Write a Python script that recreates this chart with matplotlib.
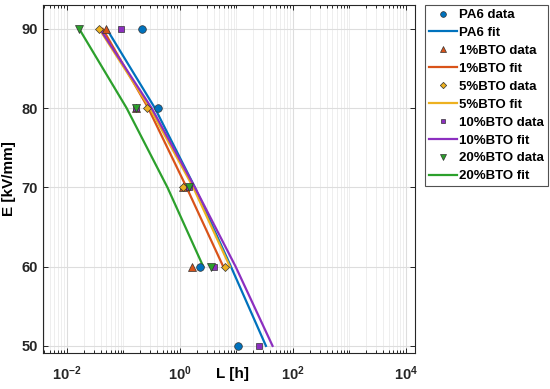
import numpy as np
import matplotlib
matplotlib.use("Agg")
import matplotlib.pyplot as plt
from matplotlib.ticker import LogLocator, NullFormatter, FixedLocator

plt.rcParams['font.family'] = ['Liberation Sans', 'DejaVu Sans']
plt.rcParams['font.weight'] = 'bold'
plt.rcParams['mathtext.fontset'] = 'custom'
plt.rcParams['mathtext.rm'] = 'Liberation Sans:bold'
plt.rcParams['mathtext.bf'] = 'Liberation Sans:bold'
plt.rcParams['mathtext.default'] = 'bf'

# Measured data (E in kV/mm, L in hours)
pa6_E = [90, 80, 60, 50]
pa6_L = [0.215, 0.41, 2.29, 10.5]
bto1_E = [90, 80, 70, 60]
bto1_L = [0.050, 0.165, 1.15, 1.65]
bto5_E = [90, 80, 70, 60]
bto5_L = [0.037, 0.26, 1.12, 6.3]
bto10_E = [90, 80, 70, 60, 50]
bto10_L = [0.091, 0.165, 1.46, 4.0, 25.1]
bto20_E = [90, 80, 70, 60]
bto20_L = [0.0166, 0.165, 1.46, 3.5]

# Fitted curves, read at each field level
pa6_fit_E = [90, 80, 70, 60, 50]
pa6_fit_L = [0.0505, 0.361, 1.84, 8.0, 33.3]
bto1_fit_E = [90, 80, 70, 60]
bto1_fit_L = [0.0429, 0.275, 1.31, 5.85]
bto5_fit_E = [90, 80, 70, 60]
bto5_fit_L = [0.0373, 0.294, 1.72, 7.67]
bto10_fit_E = [90, 80, 70, 60, 50]
bto10_fit_L = [0.0384, 0.316, 1.84, 9.68, 43.6]
bto20_fit_E = [90, 80, 70, 60]
bto20_fit_L = [0.0165, 0.114, 0.601, 2.59]

names = ['PA6', '1%BTO', '5%BTO', '10%BTO', '20%BTO']
colors = ['#0072BD', '#D95319', '#EDB120', '#8C2FC0', '#2CA02C']
markers = ['o', '^', 'D', 's', 'v']
msizes = [5.5, 5.5, 4.3, 4.0, 5.5]
data = [(pa6_E, pa6_L), (bto1_E, bto1_L), (bto5_E, bto5_L),
        (bto10_E, bto10_L), (bto20_E, bto20_L)]
fits = [(pa6_fit_E, pa6_fit_L), (bto1_fit_E, bto1_fit_L), (bto5_fit_E, bto5_fit_L),
        (bto10_fit_E, bto10_fit_L), (bto20_fit_E, bto20_fit_L)]

fig = plt.figure(figsize=(5.5, 3.89), dpi=100)
ax = fig.add_axes([0.078, 0.0925, 0.6765, 0.8945])

for i in range(5):
    ax.plot(data[i][1], data[i][0], linestyle='none', marker=markers[i],
            ms=msizes[i], mfc=colors[i], mec='#333333', mew=0.5,
            label=names[i] + ' data', zorder=5)
    ax.plot(fits[i][1], fits[i][0], color=colors[i], lw=1.6,
            label=names[i] + ' fit', zorder=3)

ax.set_xscale('log')
ax.set_xlim(10 ** -2.425, 10 ** 4.16)
ax.set_ylim(49.1, 93.0)
ax.xaxis.set_major_locator(FixedLocator([1e-2, 1e0, 1e2, 1e4]))
ax.xaxis.set_minor_locator(LogLocator(base=10, subs=np.arange(1, 10), numticks=30))
ax.xaxis.set_minor_formatter(NullFormatter())
ax.set_yticks([50, 60, 70, 80, 90])

ax.grid(True, which='major', color='#dddddd', lw=0.8)
ax.grid(True, which='minor', axis='x', color='#ebebeb', lw=0.6)
ax.set_axisbelow(True)

ax.tick_params(which='both', direction='in', top=True, right=True,
               labelsize=10.5, colors='#262626', width=0.7)
ax.tick_params(which='major', length=3.5)
ax.tick_params(which='minor', length=2)
ax.tick_params(axis='x', which='major', pad=8)
for s in ax.spines.values():
    s.set_color('#262626')
    s.set_linewidth(0.8)

ax.set_ylabel('E [kV/mm]', fontsize=11, fontweight='bold', labelpad=4)
ax.set_xlabel('L [h]', fontsize=11, fontweight='bold')
ax.xaxis.set_label_coords(0.51, -0.06)
ax.xaxis.label.set_verticalalignment('center')

leg = fig.legend(loc='upper left', bbox_to_anchor=(425 / 550, 384 / 389),
                 fontsize=9.5, frameon=True, fancybox=False, edgecolor='#262626',
                 handlelength=2.1, handletextpad=0.2, borderpad=0.3,
                 labelspacing=0.43, borderaxespad=0, markerscale=0.75)
leg.get_frame().set_linewidth(0.8)
for t in leg.get_texts():
    t.set_fontweight('bold')

fig.savefig('out.png', dpi=100)
